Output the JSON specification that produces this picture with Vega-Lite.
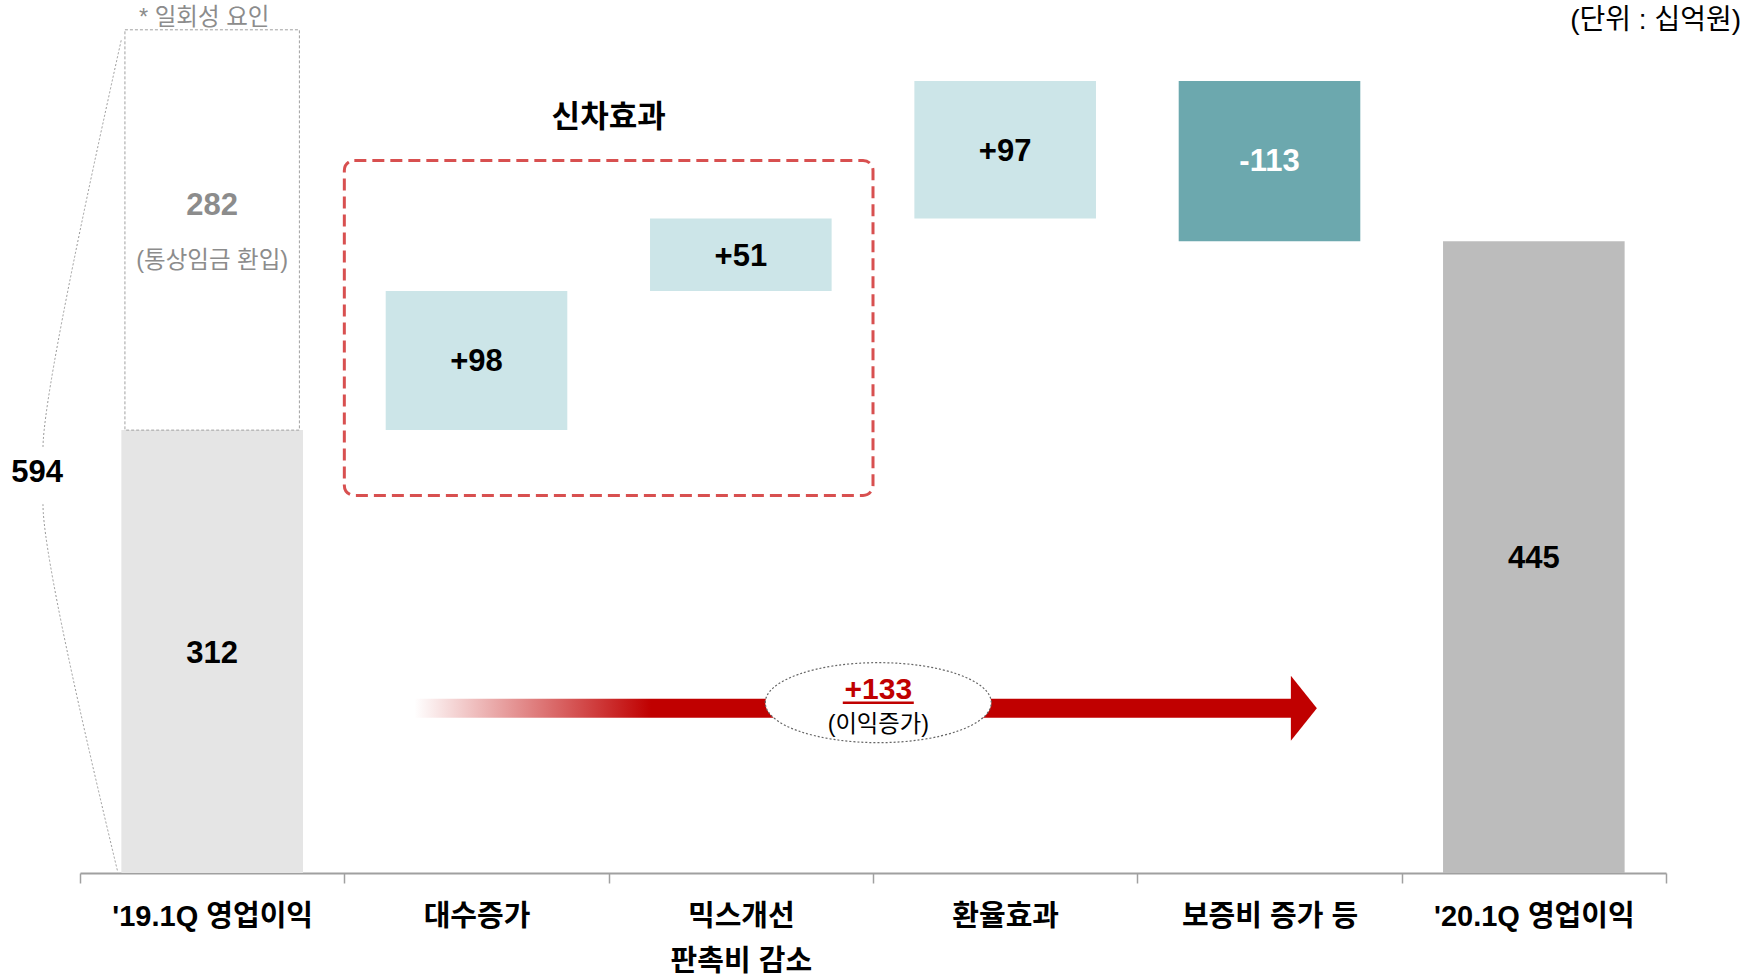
{
  "$schema": "https://vega.github.io/schema/vega-lite/v6.json",
  "width": 1586,
  "height": 873,
  "autosize": {"type": "none"},
  "padding": {"left": 80, "top": 0, "right": 91, "bottom": 106},
  "background": "white",
  "config": {
    "view": {"stroke": null},
    "font": "Liberation Sans, Noto Sans CJK KR",
    "text": {"font": "Liberation Sans, Noto Sans CJK KR"},
    "axisX": {
      "labelAngle": 0, "domainColor": "#a0a0a0", "domainWidth": 2,
      "tickColor": "#a0a0a0", "tickWidth": 1.5, "tickSize": 10, "tickBand": "extent",
      "labelFont": "Liberation Sans, Noto Sans CJK KR", "labelFontSize": 29, "labelFontWeight": "bold",
      "labelColor": "#000000", "labelPadding": 19, "labelLineHeight": 45, "labelLimit": 0,
      "labelBaseline": "top", "grid": false
    }
  },
  "datasets": {
    "steps": [
      {"cat": "'19.1Q 영업이익", "start": 0, "end": 312, "kind": "base"},
      {"cat": "대수증가", "start": 312, "end": 410, "kind": "up"},
      {"cat": "믹스개선|판촉비 감소", "start": 410, "end": 461, "kind": "up"},
      {"cat": "환율효과", "start": 461, "end": 558, "kind": "up"},
      {"cat": "보증비 증가 등", "start": 558, "end": 445, "kind": "down"},
      {"cat": "'20.1Q 영업이익", "start": 0, "end": 445, "kind": "total"}
    ],
    "oneoff": [
      {"cat": "'19.1Q 영업이익", "start": 312, "end": 594, "total": 594, "mid": 297, "totalY": 282, "totalText": "594", "noteY": 602, "note": "* 일회성 요인"}
    ],
    "labels": [
      {"cat": "'19.1Q 영업이익", "y": 154, "text": "312", "style": "value"},
      {"cat": "'19.1Q 영업이익", "y": 470, "text": "282", "style": "oneoff"},
      {"cat": "'19.1Q 영업이익", "y": 431, "text": "(통상임금 환입)", "style": "oneoffnote"},
      {"cat": "대수증가", "y": 360, "text": "+98", "style": "value"},
      {"cat": "믹스개선|판촉비 감소", "y": 434, "text": "+51", "style": "value"},
      {"cat": "환율효과", "y": 508, "text": "+97", "style": "value"},
      {"cat": "보증비 증가 등", "y": 501, "text": "-113", "style": "neg"},
      {"cat": "'20.1Q 영업이익", "y": 221, "text": "445", "style": "value"}
    ],
    "group": [
      {"cat": "대수증가", "next": "환율효과", "top": 502, "bottom": 266, "textY": 532, "text": "신차효과"}
    ],
    "arrow": [
      {"from": "대수증가", "to": "보증비 증가 등", "mid": "환율효과", "y": 116, "ellipseY": 120, "valueY": 129, "value": "+133", "noteY": 104, "note": "(이익증가)"}
    ],
    "unit": [
      {"cat": "'20.1Q 영업이익", "y": 600, "text": "(단위 : 십억원)"}
    ]
  },
  "layer": [
    {
      "data": {"name": "steps"},
      "mark": {"type": "bar", "width": {"band": 0.687}},
      "encoding": {
        "x": {
          "field": "cat", "type": "nominal", "title": null,
          "scale": {
            "domain": ["'19.1Q 영업이익", "대수증가", "믹스개선|판촉비 감소", "환율효과", "보증비 증가 등", "'20.1Q 영업이익"],
            "paddingInner": 0, "paddingOuter": 0
          },
          "axis": {
            "title": null, "labelAngle": 0, "domainColor": "#a0a0a0", "domainWidth": 2,
            "tickColor": "#a0a0a0", "tickWidth": 1.5, "tickSize": 10, "tickBand": "extent",
            "labelFont": "Liberation Sans, Noto Sans CJK KR", "labelFontSize": 29, "labelFontWeight": "bold",
            "labelColor": "#000000", "labelPadding": 19, "labelLineHeight": 45, "labelLimit": 0,
            "labelBaseline": "top", "labelExpr": "split(datum.label, '|')", "grid": false
          }
        },
        "y": {"field": "start", "type": "quantitative", "scale": {"domain": [0, 615], "nice": false, "zero": true}, "axis": null},
        "y2": {"field": "end"},
        "color": {
          "field": "kind", "type": "nominal",
          "scale": {"domain": ["base", "up", "down", "total"], "range": ["#e5e5e5", "#cce5e8", "#6ca8ae", "#bcbcbc"]},
          "legend": null
        }
      }
    },
    {
      "data": {"name": "oneoff"},
      "mark": {"type": "bar", "width": {"band": 0.66}, "fill": "#ffffff", "stroke": "#a0a0a0", "strokeDash": [3, 2], "strokeWidth": 1},
      "encoding": {
        "x": {"field": "cat", "type": "nominal", "title": null},
        "y": {"field": "start", "type": "quantitative", "axis": null},
        "y2": {"field": "end"}
      }
    },
    {
      "data": {"name": "oneoff"},
      "mark": {"type": "point", "shape": "M0.099,-0.988Q-0.089,-0.144,-0.089,-0.007M-0.089,0.127Q-0.089,0.264,0.091,1.012", "size": 692224, "filled": false, "stroke": "#999999", "strokeWidth": 1, "strokeDash": [2, 2], "opacity": 1},
      "encoding": {
        "x": {"field": "cat", "type": "nominal", "bandPosition": 0, "title": null},
        "y": {"field": "mid", "type": "quantitative", "axis": null}
      }
    },
    {
      "data": {"name": "oneoff"},
      "mark": {"type": "text", "fontSize": 31, "fontWeight": "bold", "color": "#000000", "align": "right", "baseline": "middle", "dx": -17},
      "encoding": {
        "x": {"field": "cat", "type": "nominal", "bandPosition": 0, "title": null},
        "y": {"field": "totalY", "type": "quantitative", "axis": null},
        "text": {"field": "totalText"}
      }
    },
    {
      "data": {"name": "oneoff"},
      "mark": {"type": "text", "fontSize": 23.5, "color": "#8c8c8c", "align": "center", "baseline": "middle"},
      "encoding": {
        "x": {"field": "cat", "type": "nominal", "bandPosition": 0.47, "title": null},
        "y": {"field": "noteY", "type": "quantitative", "axis": null},
        "text": {"field": "note"}
      }
    },
    {
      "data": {"name": "group"},
      "mark": {"type": "rect", "cornerRadius": 10, "filled": false, "stroke": "#d85050", "strokeWidth": 3, "strokeDash": [12, 6]},
      "encoding": {
        "x": {"field": "cat", "type": "nominal", "bandPosition": 0, "title": null},
        "x2": {"field": "next", "bandPosition": 0},
        "y": {"field": "top", "type": "quantitative", "axis": null},
        "y2": {"field": "bottom"}
      }
    },
    {
      "data": {"name": "group"},
      "mark": {"type": "text", "fontSize": 31, "fontWeight": "bold", "color": "#000000", "align": "center", "baseline": "middle"},
      "encoding": {
        "x": {"field": "cat", "type": "nominal", "bandPosition": 1, "title": null},
        "y": {"field": "textY", "type": "quantitative", "axis": null},
        "text": {"field": "text"}
      }
    },
    {
      "data": {"name": "labels"},
      "transform": [{"filter": "datum.style == 'value'"}],
      "mark": {"type": "text", "fontSize": 31, "fontWeight": "bold", "color": "#000000", "baseline": "middle"},
      "encoding": {
        "x": {"field": "cat", "type": "nominal", "title": null},
        "y": {"field": "y", "type": "quantitative", "axis": null},
        "text": {"field": "text"}
      }
    },
    {
      "data": {"name": "labels"},
      "transform": [{"filter": "datum.style == 'neg'"}],
      "mark": {"type": "text", "fontSize": 31, "fontWeight": "bold", "color": "#ffffff", "baseline": "middle"},
      "encoding": {
        "x": {"field": "cat", "type": "nominal", "title": null},
        "y": {"field": "y", "type": "quantitative", "axis": null},
        "text": {"field": "text"}
      }
    },
    {
      "data": {"name": "labels"},
      "transform": [{"filter": "datum.style == 'oneoff'"}],
      "mark": {"type": "text", "fontSize": 31, "fontWeight": "bold", "color": "#8c8c8c", "baseline": "middle"},
      "encoding": {
        "x": {"field": "cat", "type": "nominal", "title": null},
        "y": {"field": "y", "type": "quantitative", "axis": null},
        "text": {"field": "text"}
      }
    },
    {
      "data": {"name": "labels"},
      "transform": [{"filter": "datum.style == 'oneoffnote'"}],
      "mark": {"type": "text", "fontSize": 23.5, "color": "#8c8c8c", "baseline": "middle"},
      "encoding": {
        "x": {"field": "cat", "type": "nominal", "title": null},
        "y": {"field": "y", "type": "quantitative", "axis": null},
        "text": {"field": "text"}
      }
    },
    {
      "data": {"name": "arrow"},
      "mark": {
        "type": "rect", "height": 19, "baseline": "middle",
        "fill": {"gradient": "linear", "x1": 0, "x2": 1, "y1": 0, "y2": 0,
          "stops": [{"offset": 0, "color": "#ffffff"}, {"offset": 0.27, "color": "#c00000"}, {"offset": 1, "color": "#c00000"}]}
      },
      "encoding": {
        "x": {"field": "from", "type": "nominal", "bandPosition": 0.265, "title": null},
        "x2": {"field": "to", "bandPosition": 0.583},
        "y": {"field": "y", "type": "quantitative", "axis": null}
      }
    },
    {
      "data": {"name": "arrow"},
      "mark": {"type": "point", "shape": "M-0.4,-1L0.4,0L-0.4,1Z", "size": 4225, "filled": true, "fill": "#c00000", "opacity": 1, "strokeWidth": 0},
      "encoding": {
        "x": {"field": "to", "type": "nominal", "bandPosition": 0.63, "title": null},
        "y": {"field": "y", "type": "quantitative", "axis": null}
      }
    },
    {
      "data": {"name": "arrow"},
      "mark": {"type": "point", "shape": "M-1,0A1,0.354,0,1,1,1,0A1,0.354,0,1,1,-1,0Z", "size": 51076, "filled": true, "fill": "#ffffff", "stroke": "#666666", "strokeWidth": 1.2, "strokeDash": [2, 2], "opacity": 1},
      "encoding": {
        "x": {"field": "mid", "type": "nominal", "bandPosition": 0.02, "title": null},
        "y": {"field": "ellipseY", "type": "quantitative", "axis": null}
      }
    },
    {
      "data": {"name": "arrow"},
      "mark": {"type": "text", "fontSize": 30, "fontWeight": "bold", "color": "#c00000", "baseline": "middle"},
      "encoding": {
        "x": {"field": "mid", "type": "nominal", "bandPosition": 0.02, "title": null},
        "y": {"field": "valueY", "type": "quantitative", "axis": null},
        "text": {"field": "value"}
      }
    },
    {
      "data": {"name": "arrow"},
      "mark": {"type": "point", "shape": "M-1,0L1,0", "size": 5041, "filled": false, "stroke": "#c00000", "strokeWidth": 2.5, "opacity": 1},
      "encoding": {
        "x": {"field": "mid", "type": "nominal", "bandPosition": 0.02, "title": null},
        "y": {"field": "ellipseY", "type": "quantitative", "axis": null}
      }
    },
    {
      "data": {"name": "arrow"},
      "mark": {"type": "text", "fontSize": 23.3, "color": "#000000", "baseline": "middle"},
      "encoding": {
        "x": {"field": "mid", "type": "nominal", "bandPosition": 0.02, "title": null},
        "y": {"field": "noteY", "type": "quantitative", "axis": null},
        "text": {"field": "note"}
      }
    },
    {
      "data": {"name": "unit"},
      "mark": {"type": "text", "fontSize": 28, "color": "#000000", "align": "right", "baseline": "middle", "dx": 75},
      "encoding": {
        "x": {"field": "cat", "type": "nominal", "bandPosition": 1, "title": null},
        "y": {"field": "y", "type": "quantitative", "axis": null},
        "text": {"field": "text"}
      }
    }
  ]
}
